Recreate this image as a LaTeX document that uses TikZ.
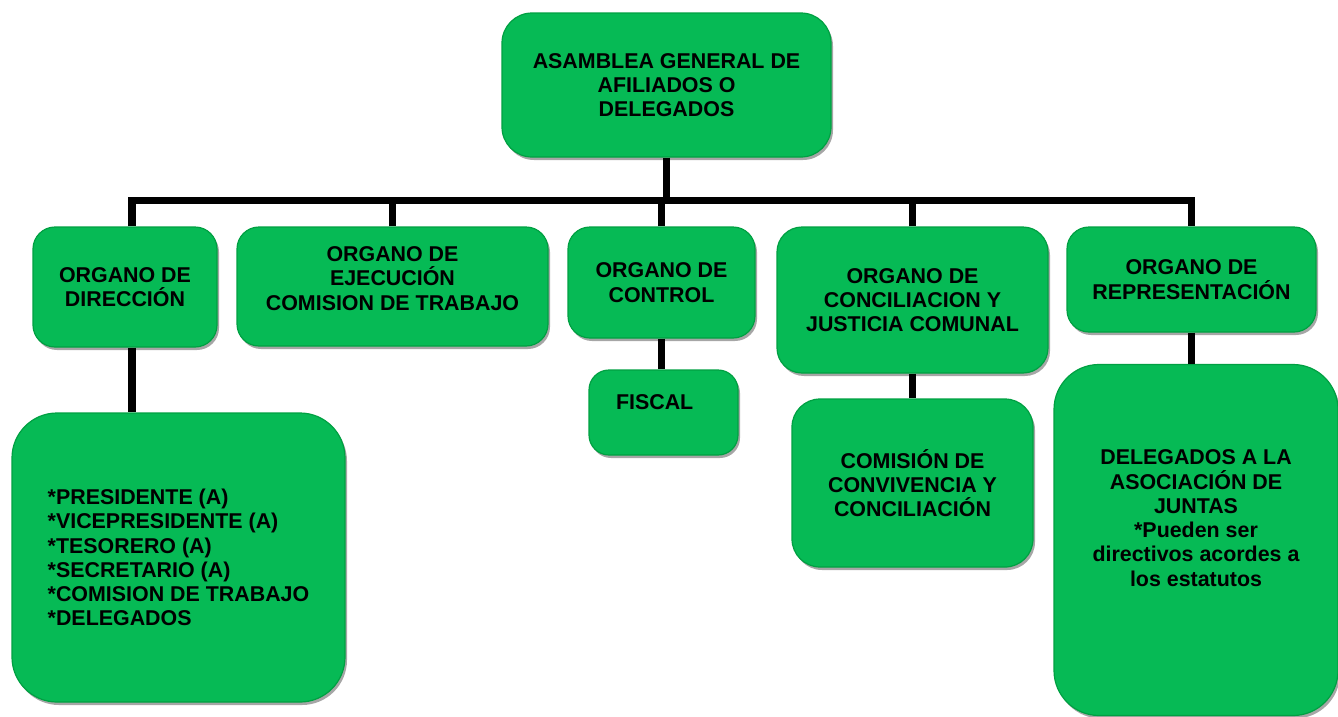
\documentclass[tikz,border=0pt]{standalone}
\usepackage{fontspec}
\setmainfont{Liberation Sans}
\usetikzlibrary{shadows}
\definecolor{boxgreen}{RGB}{6,186,85}
\definecolor{boxedge}{RGB}{0,160,66}
\tikzset{
  orgbox/.style={draw=boxedge, line width=1.2pt, fill=boxgreen, rectangle,
    inner sep=0pt, align=center,
    font=\fontsize{21.4}{24.3}\selectfont\bfseries,
    drop shadow={shadow xshift=2pt, shadow yshift=-3pt, opacity=0.35, fill=black}},
  conn/.style={line width=7.5pt, black}
}
\begin{document}
\begin{tikzpicture}[x=1pt, y=-1pt]
\useasboundingbox (0,0) rectangle (1338,716);

\node[orgbox, minimum width=329pt, minimum height=144pt, rounded corners=30pt] (top) at (666.5,85)
  {ASAMBLEA GENERAL DE\\AFILIADOS O\\DELEGADOS};

\node[orgbox, minimum width=184pt, minimum height=120pt, rounded corners=22pt] (b1) at (125,287)
  {ORGANO DE\\DIRECCIÓN};
\node[orgbox, minimum width=311pt, minimum height=119pt, rounded corners=22pt, text depth=16pt] (b2) at (392.5,286.5)
  {ORGANO DE\\EJECUCIÓN\\COMISION DE TRABAJO};
\node[orgbox, minimum width=187pt, minimum height=111pt, rounded corners=22pt] (b3) at (661.5,282.5)
  {ORGANO DE\\CONTROL};
\node[orgbox, minimum width=271pt, minimum height=146pt, rounded corners=25pt] (b4) at (912.5,300)
  {ORGANO DE\\CONCILIACION Y\\JUSTICIA COMUNAL};
\node[orgbox, minimum width=249pt, minimum height=105pt, rounded corners=22pt] (b5) at (1191.5,279.5)
  {ORGANO DE\\REPRESENTACIÓN};

\node[orgbox, minimum width=333pt, minimum height=289pt, rounded corners=45pt, align=left] (c1) at (178.5,557.5)
  {*PRESIDENTE (A)\\*VICEPRESIDENTE (A)\\*TESORERO (A)\\*SECRETARIO (A)\\*COMISION DE TRABAJO\\*DELEGADOS};
\node[orgbox, text width=95pt, inner xsep=27pt, minimum height=85pt, rounded corners=20pt, align=left, text depth=20pt] (fiscal) at (663.5,412.5)
  {FISCAL};
\node[orgbox, minimum width=241pt, minimum height=168pt, rounded corners=28pt] (comi) at (912.5,483)
  {COMISIÓN DE\\CONVIVENCIA Y\\CONCILIACIÓN};
\node[orgbox, minimum width=284pt, minimum height=351pt, rounded corners=45pt, text depth=44pt] (dele) at (1196,540)
  {DELEGADOS A LA\\ASOCIACIÓN DE\\JUNTAS\\*Pueden ser\\directivos acordes a\\los estatutos};

\coordinate (barR) at (1191.5,200.5);
\draw[conn] (top.south) -- (top.south |- barR);
\draw[conn] ([xshift=7pt]b1.north) |- (barR) -- (b5.north);
\draw[conn] (b2.north) -- (b2.north |- barR);
\draw[conn] (b3.north) -- (b3.north |- barR);
\draw[conn] (b4.north) -- (b4.north |- barR);

\draw[conn] ([xshift=7pt]b1.south) -- ([xshift=7pt]b1.south |- c1.north);
\draw[conn] (b3.south) -- (b3.south |- fiscal.north);
\draw[conn] (b4.south) -- (b4.south |- comi.north);
\draw[conn] (b5.south) -- (b5.south |- dele.north);
\end{tikzpicture}
\end{document}
